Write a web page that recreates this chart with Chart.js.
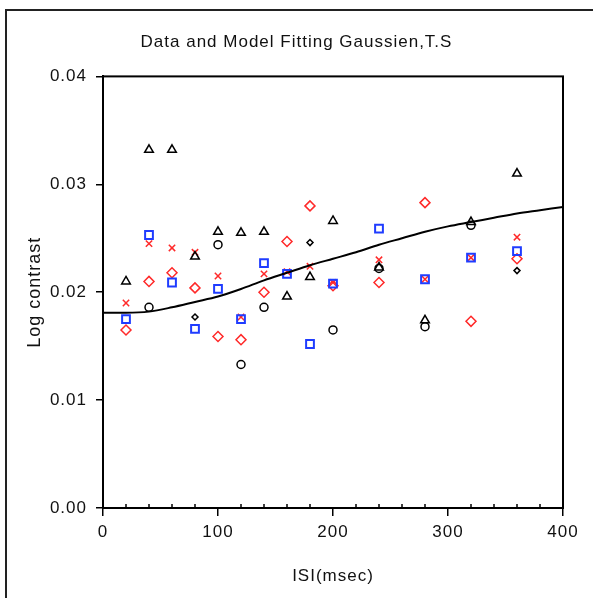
<!DOCTYPE html>
<html>
<head>
<meta charset="utf-8">
<title>Data and Model Fitting Gaussien,T.S</title>
<script src="https://cdn.jsdelivr.net/npm/chart.js@4.4.1/dist/chart.umd.min.js"></script>
<style>
    html, body { margin: 0; padding: 0; background: #fff; }
    #wrap { position: relative; width: 593px; height: 598px; }
</style>
</head>
<body>
<div id="wrap"><canvas id="fitChart" width="593" height="598"></canvas></div>
<script>
/**
 * Measured thresholds per ISI (msec)
 */
const isi = [20, 40, 60, 80, 100, 120, 140, 160, 180, 200, 240, 280, 320, 360];

const blackTriangles = [0.0210, 0.0332, 0.0332, 0.0233, 0.0256, 0.0255, 0.0256, 0.0196, 0.0214, 0.0266, 0.0223, 0.0174, 0.0265, 0.0310];
const blueSquares    = [0.0175, 0.0253, 0.0209, 0.0166, 0.0203, 0.0175, 0.0227, 0.0217, 0.0152, 0.0208, 0.0259, 0.0212, 0.0232, 0.0238];
const redDiamonds    = [0.0165, 0.0210, 0.0218, 0.0204, 0.0159, 0.0156, 0.0200, 0.0247, 0.0280, 0.0206, 0.0209, 0.0283, 0.0173, 0.0231];
const redCrosses     = [0.0190, 0.0245, 0.0241, 0.0237, 0.0215, 0.0177, 0.0217, 0.0219, 0.0224, 0.0209, 0.0230, 0.0212, 0.0232, 0.0251];
const blackCircles   = [null, 0.0186, null, null, 0.0244, 0.0133, 0.0186, null, null, 0.0165, 0.0222, 0.0168, 0.0262, null];
const blackDots      = [null, null, null, 0.0177, null, null, null, null, 0.0246, null, null, null, null, 0.0220];

/**
 * Gaussian model curve
 */
const modelIsi = [0, 20, 40, 60, 80, 100, 120, 140, 160, 180, 200, 220, 240, 260, 280, 300, 320, 340, 360, 380, 400];
const modelFit = [0.0181, 0.0181, 0.0182, 0.0186, 0.0191, 0.0196, 0.0203, 0.0211, 0.0218, 0.0225, 0.0231, 0.0237, 0.0244, 0.0250, 0.0256, 0.0261, 0.0265, 0.0269, 0.0273, 0.0276, 0.0279];

const xTicks = [0, 100, 200, 300, 400];
const yTicks = [0.00, 0.01, 0.02, 0.03, 0.04];

const textFont = "'Liberation Sans', Arial, sans-serif";

function points(values)
{
    let out = [];
    for (let i = 0; i < isi.length; i++) {
        if (values[i] !== null) {
            out.push({x: isi[i], y: values[i]});
        }
    }
    return out;
}

function markers(data, style, color, radius, width)
{
    return {
        type: 'scatter',
        data: points(data),
        pointStyle: style,
        pointRadius: radius,
        pointHoverRadius: radius,
        pointBorderColor: color,
        pointBackgroundColor: 'rgba(255,255,255,0)',
        pointBorderWidth: width
    };
}

/**
 * Outer frame, plot box and small ticks on the time axis
 */
const frame = {
    id: 'frame',
    beforeDraw(chart) {
        const ctx = chart.ctx;
        ctx.save();
        ctx.fillStyle = '#fff';
        ctx.fillRect(0, 0, chart.width, chart.height);
        ctx.strokeStyle = '#222';
        ctx.lineWidth = 2;
        ctx.beginPath();
        ctx.moveTo(6, chart.height);
        ctx.lineTo(6, 10);
        ctx.lineTo(chart.width, 10);
        ctx.stroke();
        ctx.restore();
        // the old printout font is spaced out a little
        ctx.letterSpacing = '1px';
    },
    afterDraw(chart) {
        const ctx = chart.ctx;
        const area = chart.chartArea;
        const xScale = chart.scales.x;
        ctx.letterSpacing = '0px';
        ctx.save();
        ctx.strokeStyle = '#000';
        ctx.lineWidth = 2;
        ctx.strokeRect(area.left, area.top, area.right - area.left, area.bottom - area.top);
        ctx.lineWidth = 1.5;
        ctx.beginPath();
        for (let v = 20; v < 400; v += 20) {
            if (v % 100 === 0) continue;
            const px = xScale.getPixelForValue(v);
            ctx.moveTo(px, area.bottom);
            ctx.lineTo(px, area.bottom - 4);
        }
        ctx.stroke();
        ctx.restore();
    }
};

new Chart(document.getElementById('fitChart'), {
    data: {
        datasets: [
            {
                type: 'line',
                data: modelIsi.map((x, i) => ({x: x, y: modelFit[i]})),
                borderColor: '#000',
                borderWidth: 2,
                pointRadius: 0,
                cubicInterpolationMode: 'monotone',
                fill: false
            },
            markers(blackTriangles, 'triangle', '#000', 5, 1.5),
            markers(blueSquares, 'rect', '#1f3cff', 5.5, 2),
            markers(redDiamonds, 'rectRot', '#ff2a2a', 5, 1.5),
            markers(redCrosses, 'crossRot', '#ff2a2a', 4.5, 1.5),
            markers(blackCircles, 'circle', '#000', 4, 1.5),
            markers(blackDots, 'rectRot', '#000', 3, 1.5)
        ]
    },
    options: {
        responsive: false,
        animation: false,
        events: [],
        layout: {
            padding: 0
        },
        plugins: {
            legend: {display: false},
            tooltip: {enabled: false},
            title: {
                display: true,
                text: 'Data and Model Fitting Gaussien,T.S',
                color: '#111',
                font: {family: textFont, size: 17, weight: 'normal', lineHeight: 1.2},
                padding: {top: 32, bottom: 24}
            }
        },
        scales: {
            x: {
                type: 'linear',
                min: 0,
                max: 400,
                afterBuildTicks: (scale) => { scale.ticks = xTicks.map(v => ({value: v})); },
                afterFit: (scale) => { scale.height = 90; },
                grid: {display: true, drawOnChartArea: false, drawTicks: true, tickLength: 8, color: '#000', lineWidth: 1.5},
                border: {display: true, color: '#000', width: 2},
                ticks: {
                    color: '#111',
                    padding: 6,
                    maxRotation: 0,
                    font: {family: textFont, size: 17, lineHeight: 1.2}
                },
                title: {
                    display: true,
                    text: 'ISI(msec)',
                    color: '#111',
                    font: {family: textFont, size: 17, lineHeight: 1.2},
                    padding: {top: 0, bottom: 11}
                }
            },
            y: {
                type: 'linear',
                min: 0,
                max: 0.04,
                afterBuildTicks: (scale) => { scale.ticks = yTicks.map(v => ({value: v})); },
                afterFit: (scale) => { scale.width = 103; },
                grid: {display: true, drawOnChartArea: false, drawTicks: true, tickLength: 7, color: '#000', lineWidth: 1.5},
                border: {display: true, color: '#000', width: 2},
                ticks: {
                    color: '#111',
                    padding: 9,
                    callback: (v) => Number(v).toFixed(2),
                    font: {family: textFont, size: 17, lineHeight: 1.2}
                },
                title: {
                    display: true,
                    text: 'Log contrast',
                    color: '#111',
                    font: {family: textFont, size: 18, lineHeight: 1.2},
                    padding: {top: 24, bottom: 0}
                }
            },
            // empty strip on the right, keeps the plot box clear of the frame edge
            side: {
                type: 'linear',
                position: 'right',
                min: 0,
                max: 1,
                afterFit: (scale) => { scale.width = 30; },
                grid: {display: false},
                border: {display: false},
                ticks: {display: false}
            }
        }
    },
    plugins: [frame]
});
</script>
</body>
</html>
